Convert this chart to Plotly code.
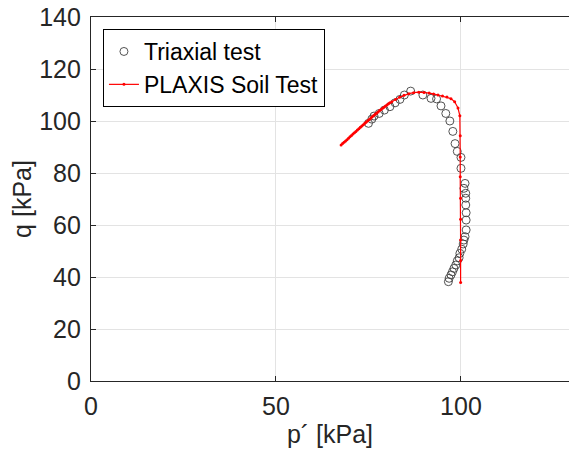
import plotly.graph_objects as go

# Triaxial test (p', q) in kPa
tri_p = [96.6, 96.8, 97.3, 97.7, 98.1, 98.6, 99.0, 99.5, 99.7, 100.2, 100.6, 100.8, 101.1,
         101.4, 101.4, 101.4, 101.3, 101.3, 101.3, 100.8, 101.1, 100.0, 100.0, 99.0, 98.4,
         97.8, 97.0, 95.9, 94.6, 93.4, 91.9, 89.7, 86.4, 84.7, 83.5, 82.2, 80.8, 79.3, 77.9,
         76.5, 75.9, 75.0]
tri_q = [38.2, 39.5, 40.8, 42.0, 43.3, 44.6, 46.2, 47.4, 49.1, 50.7, 52.7, 54.2, 55.5,
         58.1, 61.9, 64.7, 67.7, 70.3, 72.2, 74.1, 76.0, 81.8, 86.0, 88.3, 91.3,
         96.0, 100.0, 102.9, 105.8, 108.5, 108.7, 110.0, 111.5, 110.0, 108.3, 107.0, 105.5, 104.2, 102.9,
         101.9, 100.7, 99.1]

# PLAXIS Soil Test (p', q) in kPa
pl_p = [67.6, 68.0, 68.4, 68.8, 69.2, 69.6, 70.0, 70.4, 70.8, 71.2, 71.6, 72.0, 72.4, 72.8,
        73.2, 73.6, 74.0, 74.4, 74.8, 75.2, 75.6, 76.0, 76.4, 76.8, 77.2, 77.6, 78.0, 78.4,
        78.8, 79.2, 79.6, 80.0, 80.4, 80.8, 81.3, 82.3, 83.4, 84.6, 85.9, 87.2, 88.6, 90.0,
        91.4, 92.6, 93.8, 95.0, 96.2, 97.3, 98.3, 99.2, 99.7, 99.8, 99.8, 99.8, 99.9, 99.9,
        99.9, 99.9, 99.9]
pl_q = [90.8, 91.3, 91.8, 92.3, 92.8, 93.4, 93.9, 94.4, 95.0, 95.5, 96.0, 96.5, 97.0, 97.6,
        98.1, 98.6, 99.1, 99.6, 100.1, 100.6, 101.1, 101.6, 102.1, 102.6, 103.1, 103.5, 104.0, 104.4,
        104.9, 105.3, 105.8, 106.2, 106.6, 107.0, 107.4, 108.3, 109.1, 109.9, 110.5, 110.9, 111.1, 111.0,
        110.8, 110.4, 110.0, 109.6, 109.2, 108.6, 107.4, 105.0, 102.0, 94.3, 86.2, 78.6, 70.3, 62.2,
        54.2, 46.3, 37.9]

x_ticks = [0, 50, 100]
y_ticks = [0, 20, 40, 60, 80, 100, 120, 140]

FONT = "Liberation Sans, Arial, Helvetica, sans-serif"
AX = "#262626"

fig = go.Figure()
fig.add_trace(go.Scatter(
    x=tri_p, y=tri_q, mode="markers", name="Triaxial test",
    marker=dict(symbol="circle-open", size=8, color="#404040", line=dict(width=0.9, color="#404040")),
))
fig.add_trace(go.Scatter(
    x=pl_p, y=pl_q, mode="lines+markers", name="PLAXIS Soil Test",
    line=dict(color="#ff0000", width=1.2),
    marker=dict(symbol="circle", size=3, color="#ff0000"),
))

fig.update_layout(
    width=569, height=456,
    margin=dict(l=91, r=0, t=17, b=75),
    paper_bgcolor="white", plot_bgcolor="white",
    font=dict(family=FONT, size=25, color=AX),
    showlegend=True,
    legend=dict(
        x=0.025, y=0.967, xanchor="left", yanchor="top",
        bgcolor="white", bordercolor="#000000", borderwidth=1,
        font=dict(family=FONT, size=23, color="#000000"),
        itemwidth=30, tracegroupgap=0,
    ),
    xaxis=dict(
        range=[0, 129.2], tickvals=x_ticks, ticktext=[str(v) for v in x_ticks],
        showgrid=True, gridcolor="#e3e3e3", gridwidth=1,
        showline=True, linecolor=AX, linewidth=1.3, mirror="ticks",
        ticks="inside", ticklen=5, tickcolor=AX, tickwidth=1,
        zeroline=False, ticklabelstandoff=3,
        title=dict(text="p´ [kPa]", font=dict(family=FONT, size=25, color=AX), standoff=2),
        tickfont=dict(family=FONT, size=25, color=AX),
    ),
    yaxis=dict(
        range=[0, 140], tickvals=y_ticks, ticktext=[str(v) for v in y_ticks],
        showgrid=True, gridcolor="#e3e3e3", gridwidth=1,
        showline=True, linecolor=AX, linewidth=1.3, mirror=False,
        ticks="inside", ticklen=5, tickcolor=AX, tickwidth=1,
        zeroline=False, ticklabelstandoff=4,
        title=dict(text="q [kPa]", font=dict(family=FONT, size=25, color=AX), standoff=0),
        tickfont=dict(family=FONT, size=25, color=AX),
    ),
)

fig.write_html("out.html")
